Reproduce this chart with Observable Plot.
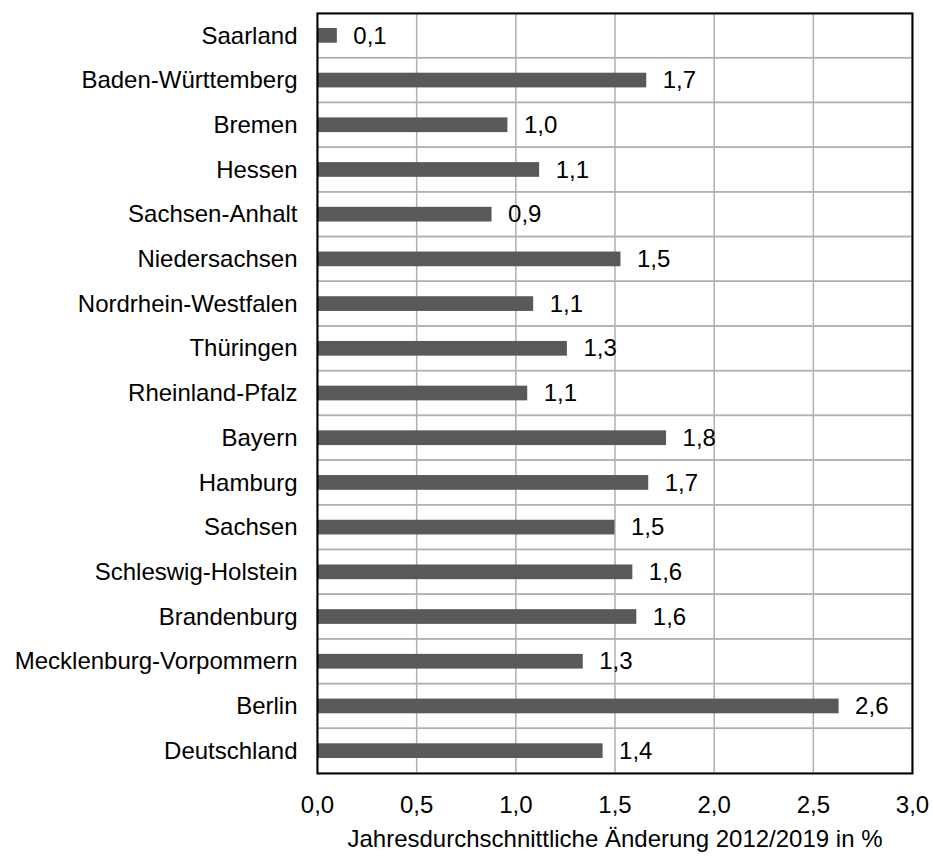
<!DOCTYPE html>
<html>
<head>
<meta charset="utf-8">
<script src="https://cdn.jsdelivr.net/npm/d3@7"></script>
<script src="https://cdn.jsdelivr.net/npm/@observablehq/plot@0.6"></script>
<style>
  html, body { margin: 0; padding: 0; background: #fff; }
</style>
</head>
<body>
<div id="chart"></div>
<script>
const states = ["Saarland", "Baden-Württemberg", "Bremen", "Hessen", "Sachsen-Anhalt", "Niedersachsen", "Nordrhein-Westfalen", "Thüringen", "Rheinland-Pfalz", "Bayern", "Hamburg", "Sachsen", "Schleswig-Holstein", "Brandenburg", "Mecklenburg-Vorpommern", "Berlin", "Deutschland"];
const values = [0.10, 1.66, 0.96, 1.12, 0.88, 1.53, 1.09, 1.26, 1.06, 1.76, 1.67, 1.50, 1.59, 1.61, 1.34, 2.63, 1.44];
const labels = ["0,1", "1,7", "1,0", "1,1", "0,9", "1,5", "1,1", "1,3", "1,1", "1,8", "1,7", "1,5", "1,6", "1,6", "1,3", "2,6", "1,4"];
const xTicks = [0, 0.5, 1, 1.5, 2, 2.5, 3];
const xTitle = "Jahresdurchschnittliche Änderung 2012/2019 in %";

const data = states.map((s, i) => ({state: s, value: values[i], label: labels[i]}));
const fmt = d => d.toFixed(1).replace(".", ",");

const chart = Plot.plot({
  width: 933,
  height: 856,
  marginLeft: 317,
  marginRight: 21,
  marginTop: 13,
  marginBottom: 83,
  style: {fontFamily: "'Liberation Sans', Arial, sans-serif", fontSize: "24px", color: "#000", background: "#fff"},
  x: {domain: [0, 3], ticks: xTicks, tickFormat: fmt, tickSize: 0, tickPadding: 22, label: null},
  y: {domain: states, padding: 0, round: false, tickSize: 0, tickPadding: 20, label: null},
  marks: [
    Plot.barX(states, {x1: 0, x2: 3, y: d => d, fill: "none", stroke: "#b0b0b0", strokeWidth: 1.5}),
    Plot.ruleX(xTicks.slice(1, -1), {stroke: "#b0b0b0", strokeWidth: 1.5}),
    Plot.barX(data, {x: "value", y: "state", fill: "#595959", insetTop: 15, insetBottom: 15}),
    Plot.text(data, {x: "value", y: "state", text: "label", textAnchor: "start", dx: 16, fontSize: 24, fill: "#000"}),
    Plot.frame({stroke: "#000", strokeWidth: 2}),
    Plot.text([xTitle], {frameAnchor: "bottom", dy: 73, fontSize: 24, fill: "#000"})
  ]
});
document.getElementById("chart").appendChild(chart);
</script>
</body>
</html>
